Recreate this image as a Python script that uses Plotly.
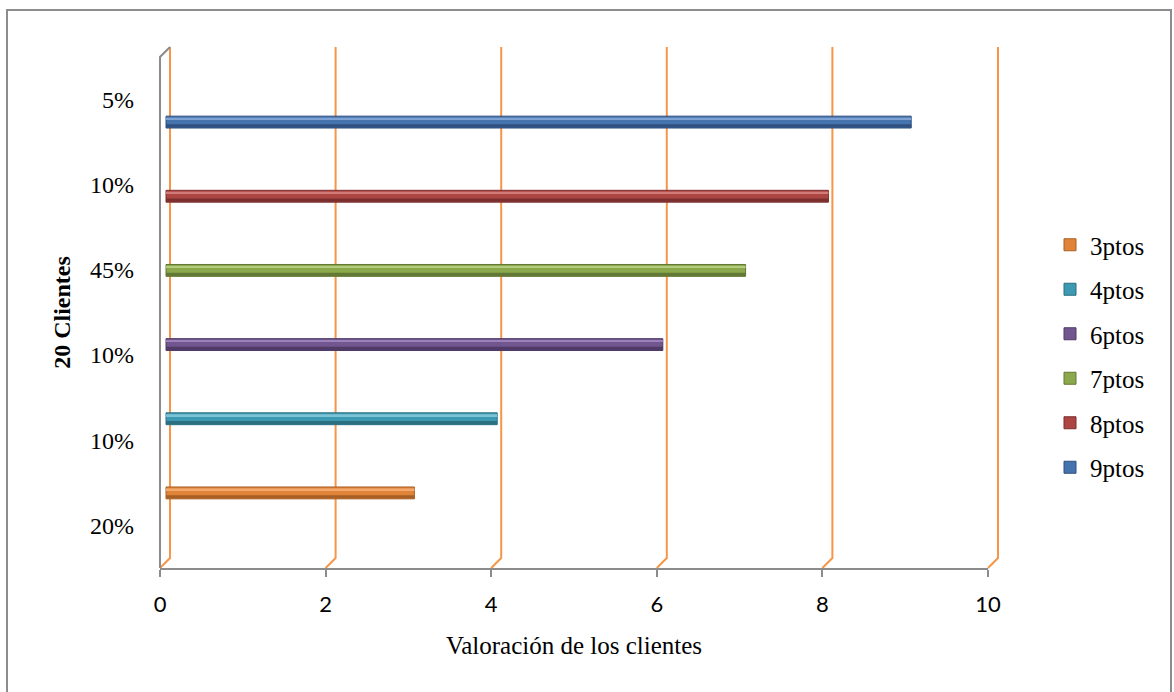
import plotly.graph_objects as go

# Category labels along the vertical axis (bottom to top)
category_labels = ["20%", "10%", "10%", "45%", "10%", "5%"]
# Series (one bar each), listed bottom to top
series_names = ["3ptos", "4ptos", "6ptos", "7ptos", "8ptos", "9ptos"]
series_values = [3, 4, 6, 7, 8, 9]
series_colors = ["#E0843A", "#3E9AB2", "#72568F", "#8BA84C", "#AD4543", "#4573AD"]
series_dark = ["#A85F25", "#2B6F80", "#4F3B66", "#627835", "#7A2F2E", "#2F5080"]
series_light = ["#F3A86E", "#7CC3D6", "#9C82BA", "#B3CC7E", "#D27C79", "#7DA2D3"]
x_ticks = [0, 2, 4, 6, 8, 10]
x_range = [0, 10]

W, H = 1174, 692
L, R, T, B = 160, 988, 57, 568  # plot area in pixels
plot_w, plot_h = R - L, B - T
depth = 10  # 3D wall depth offset in pixels


def px_x(p):
    return (p - L) / plot_w


def px_y(p):
    return (B - p) / plot_h


def axis_frac(v):
    # position of an x value as a fraction of the plot width
    return (v - x_range[0]) / (x_range[1] - x_range[0])


fig = go.Figure()

for i, (name, val) in enumerate(zip(series_names, series_values)):
    # main cylinder body
    fig.add_trace(go.Bar(
        x=[val], y=[i], orientation="h", name=name,
        xaxis="x2", yaxis="y2", width=0.16, offset=-0.08,
        marker=dict(color=series_colors[i], line=dict(color=series_dark[i], width=1)),
        legendgroup=name, hoverinfo="x+name",
    ))
    # shaded underside
    fig.add_trace(go.Bar(
        x=[val], y=[i], orientation="h", showlegend=False,
        xaxis="x2", yaxis="y2", width=0.045, offset=-0.075,
        marker=dict(color=series_dark[i], line=dict(width=0)),
        legendgroup=name, hoverinfo="skip",
    ))
    # highlight along the top
    fig.add_trace(go.Bar(
        x=[val], y=[i], orientation="h", showlegend=False,
        xaxis="x2", yaxis="y2", width=0.025, offset=0.035,
        marker=dict(color=series_light[i], line=dict(width=0)),
        legendgroup=name, hoverinfo="skip",
    ))

# keep the main x/y subplot alive for the labelled axes
fig.add_trace(go.Scatter(x=[None], y=[None], xaxis="x", yaxis="y",
                         showlegend=False, hoverinfo="skip"))

shapes = []
# back-wall gridlines with their diagonal foot
for v in x_ticks:
    shapes.append(dict(
        type="path", xref="paper", yref="paper", xsizemode="pixel", ysizemode="pixel",
        xanchor=axis_frac(v), yanchor=0,
        path=f"M0,0 L{depth},{depth} L{depth},{plot_h + depth}",
        line=dict(color="#F79646", width=2), layer="below",
    ))
# left side wall edge
shapes.append(dict(
    type="path", xref="paper", yref="paper", xsizemode="pixel", ysizemode="pixel",
    xanchor=axis_frac(0), yanchor=0,
    path=f"M0,0 L0,{plot_h} L{depth},{plot_h + depth}",
    line=dict(color="#8C8C8C", width=2), layer="below",
))
# outer chart border
shapes.append(dict(
    type="rect", xref="paper", yref="paper",
    x0=px_x(7), x1=px_x(1171), y0=px_y(702), y1=px_y(10),
    line=dict(color="#8C8C8C", width=2), fillcolor="rgba(0,0,0,0)", layer="below",
))

bar_offset_px = 6
bar_top, bar_bot = 85, 530

fig.update_layout(
    width=W, height=H,
    margin=dict(l=L, r=W - R, t=T, b=H - B, pad=0),
    paper_bgcolor="white", plot_bgcolor="rgba(0,0,0,0)",
    barmode="overlay",
    showlegend=True,
    legend=dict(
        x=px_x(1050), y=px_y(356), xanchor="left", yanchor="middle",
        font=dict(family="Liberation Serif", size=25, color="#000000"),
        tracegroupgap=9, traceorder="grouped", itemwidth=30,
        bgcolor="rgba(0,0,0,0)",
    ),
    xaxis=dict(
        domain=[0, 1], range=x_range, anchor="y",
        tickvals=x_ticks, ticktext=[str(v) for v in x_ticks],
        showline=True, linecolor="#8C8C8C", linewidth=2,
        ticks="outside", ticklen=7, tickwidth=2, tickcolor="#8C8C8C",
        showgrid=False, zeroline=False,
        tickfont=dict(family="Lato", size=22, color="#000000"),
        ticklabelstandoff=9,
        title=dict(text="Valoración de los clientes", standoff=20,
                   font=dict(family="Liberation Serif", size=25, color="#000000")),
    ),
    yaxis=dict(
        domain=[0, 1], range=[-0.5, 5.5], anchor="x",
        tickvals=list(range(len(category_labels))), ticktext=category_labels,
        showline=False, showgrid=False, zeroline=False, ticks="",
        ticklabelstandoff=25,
        tickfont=dict(family="Liberation Serif", size=24, color="#000000"),
        title=dict(text="<b>20 Clientes</b>", standoff=12,
                   font=dict(family="Liberation Serif", size=24, color="#000000")),
    ),
    xaxis2=dict(
        domain=[0, 1], anchor="y2",
        range=[x_range[0] - bar_offset_px * (x_range[1] - x_range[0]) / plot_w,
               x_range[1] - bar_offset_px * (x_range[1] - x_range[0]) / plot_w],
        visible=False, showgrid=False, zeroline=False,
    ),
    yaxis2=dict(
        domain=[px_y(bar_bot), px_y(bar_top)], anchor="x2",
        range=[-0.5, 5.5], visible=False, showgrid=False, zeroline=False,
    ),
    shapes=shapes,
)

fig.write_html("out.html")
